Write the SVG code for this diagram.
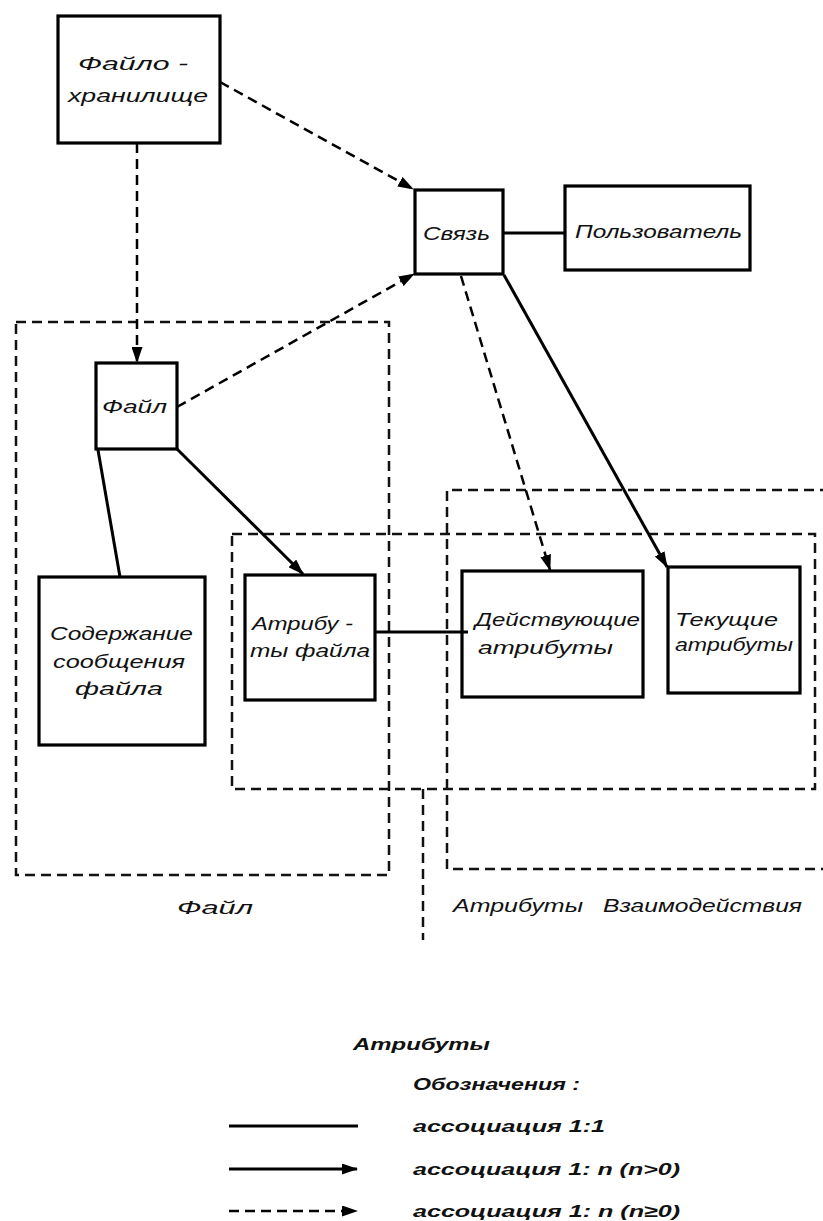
<svg xmlns="http://www.w3.org/2000/svg" width="823" height="1221" viewBox="0 0 823 1221">
<style>
.bg{fill:#fff}
.box{fill:none;stroke:#000;stroke-width:3.2}
.grp{fill:none;stroke:#111;stroke-width:2.5;stroke-dasharray:10 6}
.solid{fill:none;stroke:#000;stroke-width:3}
.dash{fill:none;stroke:#000;stroke-width:2.5;stroke-dasharray:10 6}
text{font-family:"Liberation Sans","DejaVu Sans",sans-serif;font-style:italic;font-size:19px;fill:#111}
.lg{font-weight:bold;font-size:17px}
</style>
<defs>
<marker id="ah" viewBox="0 0 16 11" refX="15" refY="5.5" markerWidth="16" markerHeight="11" markerUnits="userSpaceOnUse" orient="auto">
<path d="M0,0 L16,5.5 L0,11 Z" fill="#000"/>
</marker>
</defs>
<rect class="bg" x="0" y="0" width="823" height="1221"/>

<g id="groups">
<rect class="grp" x="16" y="322" width="373" height="553"/>
<rect class="grp" x="232" y="534" width="583" height="255"/>
<path class="grp" d="M830,490 L447,490 L447,869 L830,869"/>
<line class="grp" x1="423" y1="789" x2="423" y2="940"/>
</g>

<g id="connectors">
<line class="dash" x1="220" y1="82" x2="413" y2="189" marker-end="url(#ah)"/>
<line class="dash" x1="137" y1="143" x2="137" y2="362" marker-end="url(#ah)"/>
<line class="dash" x1="177" y1="407" x2="414" y2="274" marker-end="url(#ah)"/>
<line class="solid" x1="503" y1="233" x2="565" y2="233"/>
<line class="dash" x1="461" y1="276" x2="550" y2="570" marker-end="url(#ah)"/>
<line class="solid" x1="504" y1="275" x2="667" y2="567" marker-end="url(#ah)"/>
<line class="solid" x1="177" y1="449" x2="303" y2="574" marker-end="url(#ah)"/>
<line class="solid" x1="98" y1="450" x2="120" y2="577"/>
<line class="solid" x1="375" y1="632" x2="468" y2="632"/>
</g>

<g id="node-fayl-khranilishche">
<rect class="box" x="58" y="16" width="162" height="127"/>
<text x="78" y="70" textLength="110" lengthAdjust="spacingAndGlyphs">Файло -</text>
<text x="68" y="102" textLength="140" lengthAdjust="spacingAndGlyphs">хранилище</text>
</g>

<g id="node-svyaz">
<rect class="box" x="415" y="190" width="88" height="84"/>
<text x="423" y="240" textLength="67" lengthAdjust="spacingAndGlyphs">Связь</text>
</g>

<g id="node-polzovatel">
<rect class="box" x="565" y="186" width="185" height="84"/>
<text x="575" y="238" textLength="167" lengthAdjust="spacingAndGlyphs">Пользователь</text>
</g>

<g id="node-fayl">
<rect class="box" x="96" y="363" width="81" height="86"/>
<text x="102" y="413" textLength="65" lengthAdjust="spacingAndGlyphs">Файл</text>
</g>

<g id="node-soderzhanie">
<rect class="box" x="39" y="577" width="166" height="168"/>
<text x="50" y="640" textLength="143" lengthAdjust="spacingAndGlyphs">Содержание</text>
<text x="53" y="668" textLength="132" lengthAdjust="spacingAndGlyphs">сообщения</text>
<text x="75" y="695" textLength="88" lengthAdjust="spacingAndGlyphs">файла</text>
</g>

<g id="node-atributy-fayla">
<rect class="box" x="245" y="575" width="130" height="125"/>
<text x="252" y="630" textLength="101" lengthAdjust="spacingAndGlyphs">Атрибу -</text>
<text x="250" y="657" textLength="120" lengthAdjust="spacingAndGlyphs">ты файла</text>
</g>

<g id="node-deystvuyushchie">
<rect class="box" x="462" y="571" width="181" height="126"/>
<text x="475" y="626" textLength="165" lengthAdjust="spacingAndGlyphs">Действующие</text>
<text x="478" y="654" textLength="135" lengthAdjust="spacingAndGlyphs">атрибуты</text>
</g>

<g id="node-tekushchie">
<rect class="box" x="668" y="567" width="132" height="126"/>
<text x="675" y="626" textLength="103" lengthAdjust="spacingAndGlyphs">Текущие</text>
<text x="675" y="651" textLength="118" lengthAdjust="spacingAndGlyphs">атрибуты</text>
</g>

<g id="labels">
<text x="177" y="914" textLength="76" lengthAdjust="spacingAndGlyphs">Файл</text>
<text x="453" y="912" textLength="130" lengthAdjust="spacingAndGlyphs">Атрибуты</text>
<text x="603" y="912" textLength="199" lengthAdjust="spacingAndGlyphs">Взаимодействия</text>
</g>

<g id="legend">
<text class="lg" x="353" y="1050" textLength="137" lengthAdjust="spacingAndGlyphs">Атрибуты</text>
<text class="lg" x="413" y="1090" textLength="167" lengthAdjust="spacingAndGlyphs">Обозначения :</text>
<text class="lg" x="413" y="1132" textLength="192" lengthAdjust="spacingAndGlyphs">ассоциация 1:1</text>
<text class="lg" x="413" y="1175" textLength="267" lengthAdjust="spacingAndGlyphs">ассоциация 1: n (n&gt;0)</text>
<text class="lg" x="413" y="1217" textLength="267" lengthAdjust="spacingAndGlyphs">ассоциация 1: n (n≥0)</text>
<line class="solid" x1="229" y1="1126" x2="358" y2="1126"/>
<line class="solid" x1="229" y1="1169" x2="357" y2="1169" marker-end="url(#ah)"/>
<line class="dash" x1="229" y1="1211" x2="357" y2="1211" marker-end="url(#ah)"/>
</g>
</svg>
